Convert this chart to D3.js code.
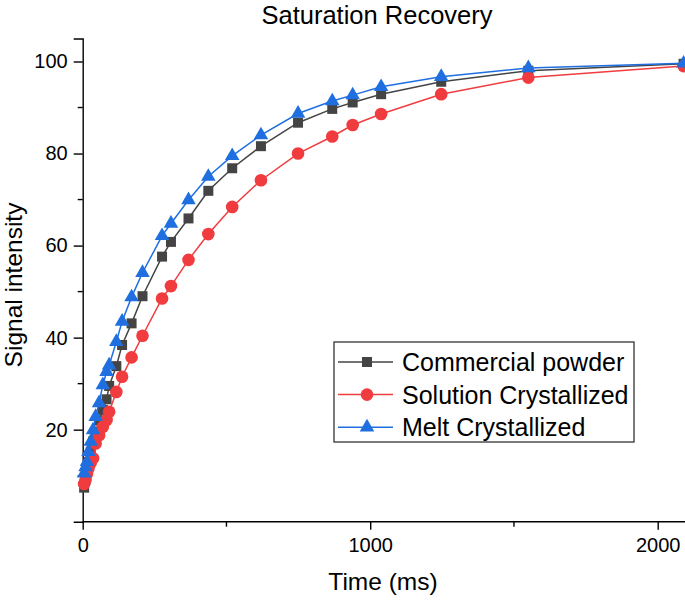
<!DOCTYPE html>
<html>
<head>
<meta charset="utf-8">
<script src="https://cdn.jsdelivr.net/npm/d3@7"></script>
<style>
    html, body { margin: 0; padding: 0; background: #fff; overflow: hidden; }
    svg { display: block; font-family: 'Liberation Sans', Arial, sans-serif; }
</style>
</head>
<body>
<div id="plot"></div>
<script>
'use strict';

// recovery delays (ms), shared by all three samples
const times = [5, 10, 15, 20, 28, 36, 45, 57, 70, 83, 92, 117, 137, 170, 208, 276, 307,
    368, 437, 520, 620, 749, 868, 939, 1038, 1247, 1550, 2090];

const commercial = [7.4, 9.1, 10.8, 13.0, 15.2, 17.4, 19.5, 22.0, 24.3, 26.6, 29.5, 33.8, 38.4,
    43.1, 49.0, 57.6, 60.8, 65.9, 71.9, 76.8, 81.6, 86.7, 89.7, 91.1, 92.9, 95.6, 98.0, 99.5];

const solution = [8.2, 9.1, 10.4, 11.6, 12.8, 13.8, 17.0, 18.8, 20.6, 22.1, 23.9, 28.2, 31.5,
    35.7, 40.4, 48.5, 51.2, 56.9, 62.5, 68.4, 74.2, 80.0, 83.7, 86.2, 88.6, 92.9, 96.5, 99.0];

const melt = [10.5, 11.9, 13.0, 15.2, 17.4, 19.9, 22.8, 25.8, 29.7, 32.6, 34.0, 39.1, 43.5,
    48.8, 54.1, 62.1, 64.8, 69.9, 75.0, 79.5, 84.0, 88.7, 91.4, 92.7, 94.5, 96.7, 98.6, 99.6];

const seriesNames = ['Commercial powder', 'Solution Crystallized', 'Melt Crystallized'];
const xTicks = [0, 1000, 2000];
const xMinorTicks = [500, 1500];
const yTicks = [20, 40, 60, 80, 100];
const yMinorTicks = [10, 30, 50, 70, 90];

let svgWidth = 685,
    svgHeight = 600,
    left = 82.7,
    bottom = 521.7,
    xScale = d3.scaleLinear().domain([0, 2100]).range([left, left + 2100 * 0.2875]),
    yScale = d3.scaleLinear().domain([0, 105]).range([bottom, bottom - 105 * 4.602]),
    svg = d3.select('#plot').append('svg')
        .attr('width', svgWidth)
        .attr('height', svgHeight);

let series = [
    { name: seriesNames[0], values: commercial, color: '#444444', shape: d3.symbolSquare, size: 100 },
    { name: seriesNames[1], values: solution, color: '#f03c3f', shape: d3.symbolCircle, size: 125 },
    { name: seriesNames[2], values: melt, color: '#1f6fe0', shape: d3.symbolTriangle, size: 92 },
];

// title
svg.append('text')
    .attr('x', 377)
    .attr('y', 24)
    .attr('text-anchor', 'middle')
    .attr('font-size', 25.5)
    .attr('fill', '#000')
    .text('Saturation Recovery');

// axes
let xAxis = d3.axisBottom(xScale).tickValues(xTicks).tickSize(8).tickPadding(8)
    .tickFormat(d3.format('d'));
let yAxis = d3.axisLeft(yScale).tickValues(yTicks).tickSize(9).tickPadding(6)
    .tickFormat(d3.format('d'));

let xg = svg.append('g')
    .attr('transform', `translate(0, ${bottom})`)
    .call(xAxis);
xg.select('.domain').attr('d', `M${left},0H${svgWidth}`);

let yg = svg.append('g')
    .attr('transform', `translate(${left}, 0)`)
    .call(yAxis);

[xg, yg].forEach(g => {
    g.select('.domain').attr('stroke', '#000').attr('stroke-width', 1.4);
    g.selectAll('.tick line').attr('stroke', '#000').attr('stroke-width', 1.4);
    g.selectAll('.tick text').attr('font-size', 20).attr('fill', '#000')
        .attr('font-family', "'Liberation Sans', Arial, sans-serif");
});

xg.selectAll('.minor').data(xMinorTicks).enter().append('line')
    .attr('x1', d => xScale(d)).attr('x2', d => xScale(d))
    .attr('y1', 0).attr('y2', 5)
    .attr('stroke', '#000').attr('stroke-width', 1.4);

yg.selectAll('.minor').data(yMinorTicks).enter().append('line')
    .attr('y1', d => yScale(d)).attr('y2', d => yScale(d))
    .attr('x1', 0).attr('x2', -5)
    .attr('stroke', '#000').attr('stroke-width', 1.4);

// axis titles
svg.append('text')
    .attr('x', 383)
    .attr('y', 590)
    .attr('text-anchor', 'middle')
    .attr('font-size', 24.5)
    .text('Time (ms)');

svg.append('text')
    .attr('transform', 'translate(22, 285) rotate(-90)')
    .attr('text-anchor', 'middle')
    .attr('font-size', 24.5)
    .text('Signal intensity');

// lines and markers
let line = d3.line()
    .x((d, i) => xScale(times[i]))
    .y(d => yScale(d));

series.forEach(s => {
    let g = svg.append('g');
    g.append('path')
        .datum(s.values)
        .attr('d', line)
        .attr('fill', 'none')
        .attr('stroke', s.color)
        .attr('stroke-width', 1.5);
    g.selectAll('.pt')
        .data(s.values).enter().append('path')
        .attr('class', 'pt')
        .attr('transform', (d, i) => `translate(${xScale(times[i])}, ${yScale(d)})`)
        .attr('d', d3.symbol().type(s.shape).size(s.size))
        .attr('fill', s.color);
});

// legend
let legend = svg.append('g').attr('transform', 'translate(334, 342)');
legend.append('rect')
    .attr('width', 300)
    .attr('height', 100)
    .attr('fill', '#fff')
    .attr('stroke', '#222')
    .attr('stroke-width', 1.2);

series.forEach((s, i) => {
    let row = legend.append('g').attr('transform', `translate(0, ${20 + i * 32.6})`);
    row.append('line')
        .attr('x1', 4).attr('x2', 59)
        .attr('stroke', s.color).attr('stroke-width', 1.5);
    row.append('path')
        .attr('transform', 'translate(33, 0)')
        .attr('d', d3.symbol().type(s.shape).size(s.size))
        .attr('fill', s.color);
    row.append('text')
        .attr('x', 68)
        .attr('dy', '0.36em')
        .attr('font-size', 25)
        .text(s.name);
});
</script>
</body>
</html>
